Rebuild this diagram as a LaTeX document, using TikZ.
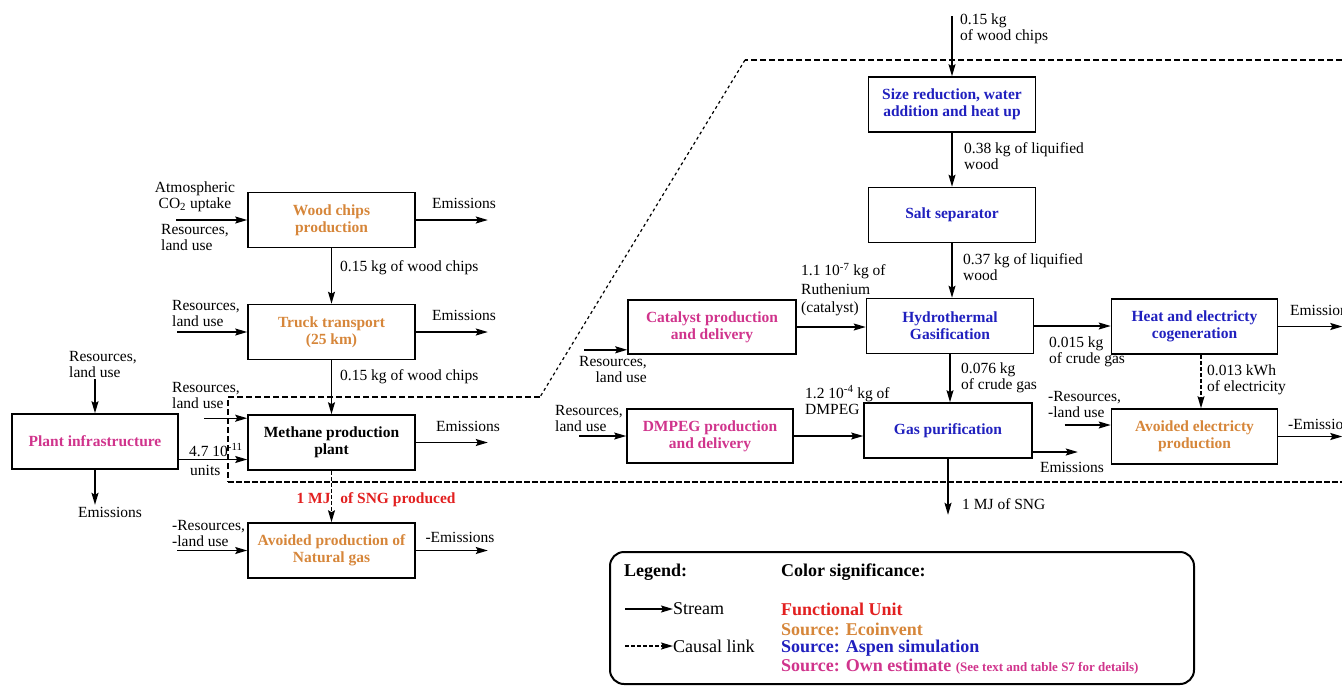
\documentclass[tikz,border=0pt]{standalone}
\usepackage{fontspec}
\setmainfont{Liberation Serif}
\usetikzlibrary{arrows.meta}
\definecolor{ecoorange}{RGB}{214,134,58}
\definecolor{aspenblue}{RGB}{32,32,190}
\definecolor{ownmag}{RGB}{208,52,140}
\definecolor{fured}{RGB}{226,32,32}
\newcommand\lblfont{\fontsize{15.5pt}{16pt}\selectfont}
\newcommand\boxfont{\fontsize{15.5pt}{17pt}\selectfont\bfseries}
\newcommand\legfont{\fontsize{18pt}{19pt}\selectfont}
\begin{document}
\begin{tikzpicture}[x=1pt,y=-1pt,
  proc/.style={draw, line width=1.6pt, minimum width=167pt, minimum height=55pt,
    align=center, font=\boxfont, inner sep=2pt},
  lbl/.style={font=\lblfont, inner sep=0pt, align=left},
  leg/.style={font=\legfont, inner sep=0pt, align=left},
  flow/.style={line width=1.4pt, -{Stealth[length=12pt,width=7pt,inset=2pt]}},
  causal/.style={flow, dash pattern=on 4pt off 2pt},
  boundary/.style={line width=1.2pt, dash pattern=on 6pt off 3pt},
]
\useasboundingbox (0,0) rectangle (1342,686);

% ---------- process boxes ----------
\node[proc, text=ecoorange] (wood) at (331.5,220) {Wood chips\\production};
\node[proc, text=ecoorange] (truck) at (331.5,332) {Truck transport\\(25 km)};
\node[proc] (methane) at (331.5,442.5) {Methane production\\plant};
\node[proc, text=ecoorange] (avng) at (331.5,550.5) {Avoided production of\\Natural gas};
\node[proc, text=ownmag, minimum width=166pt] (plant) at (95,441.5) {Plant infrastructure};
\node[proc, text=aspenblue] (size) at (952,104.5) {Size reduction, water\\addition and heat up};
\node[proc, text=aspenblue] (salt) at (952,215) {Salt separator};
\node[proc, text=aspenblue] (hydro) at (950,326) {Hydrothermal\\Gasification};
\node[proc, text=aspenblue, minimum width=168pt] (gaspur) at (948,430.5) {Gas purification};
\node[proc, text=ownmag, minimum width=168pt, minimum height=54pt] (catal) at (712,327) {Catalyst production\\and delivery};
\node[proc, text=ownmag, minimum width=166pt, minimum height=54pt] (dmpeg) at (710,436) {DMPEG production\\and delivery};
\node[proc, text=aspenblue, minimum width=166pt] (heat) at (1194.5,326.5) {Heat and electricty\\cogeneration};
\node[proc, text=ecoorange, minimum width=166pt] (avel) at (1194.5,436.5) {Avoided electricty\\production};

% ---------- wood chain, left column ----------
\node[lbl, align=center] (atm) at (195,197) {Atmospheric\\CO\textsubscript{2} uptake};
\node[lbl, anchor=west] (resW) at (161,237) {Resources,\\land use};
\draw[flow] ([xshift=-71pt]wood.west) -- (wood.west);
\node[lbl] (emW) at (464,203) {Emissions};
\draw[flow] (wood.east) -- ([xshift=72pt]wood.east);
\draw[flow] (wood.south) -- (truck.north);
\node[lbl, anchor=west] (q1) at (340,268) {0.15 kg of wood chips};

\node[lbl, anchor=west] (resT) at (172,313) {Resources,\\land use};
\draw[flow] ([xshift=-70pt]truck.west) -- (truck.west);
\node[lbl] (emT) at (464,315) {Emissions};
\draw[flow] (truck.east) -- ([xshift=72pt]truck.east);
\draw[flow] (truck.south) -- (methane.north);
\node[lbl, anchor=west] (q2) at (340,377) {0.15 kg of wood chips};

% plant infrastructure
\node[lbl, anchor=west] (resP) at (69,364.5) {Resources,\\land use};
\draw[flow] ([yshift=34pt]plant.north) -- (plant.north);
\draw[flow] (plant.south) -- ([yshift=-35pt]plant.south);
\node[lbl] (emP) at (110,512) {Emissions};

% methane plant inputs and outputs
\node[lbl, anchor=west] (resM) at (172,395) {Resources,\\land use};
\draw[flow] ([xshift=-43pt,yshift=-4pt]methane.north west) -- ([yshift=-4pt]methane.north west);
\draw[flow] ([yshift=-18pt]plant.east) -- ([yshift=-18pt]plant.east -| methane.west);
\node[lbl, anchor=west] (units1) at (189,450) {4.7 10\textsuperscript{-11}};
\node[lbl, anchor=west] (units2) at (190,470) {units};
\node[lbl] (emM) at (468,426) {Emissions};
\draw[flow] (methane.east) -- ([xshift=72pt]methane.east);

% functional unit and avoided natural gas
\node[lbl, font=\lblfont\bfseries, text=fured] (fu) at (376,500) {1 MJ\hspace{6pt} of SNG produced};
\draw[causal] (methane.south) -- (avng.north);
\node[lbl, anchor=west] (resN) at (172,533) {-Resources,\\-land use};
\draw[flow] ([xshift=-70pt]avng.west) -- (avng.west);
\node[lbl] (emN) at (460,537) {-Emissions};
\draw[flow] (avng.east) -- ([xshift=72pt]avng.east);

% ---------- hydrothermal gasification chain ----------
\draw[flow] ([yshift=60pt]size.north) -- (size.north);
\node[lbl, anchor=west] (qin) at (960,29) {0.15 kg\\of wood chips};
\draw[flow] (size.south) -- (size.south |- salt.north);
\node[lbl, anchor=west] (q38) at (964,156) {0.38 kg of liquified\\wood};
\draw[flow] (salt.south) -- (salt.south |- hydro.north);
\node[lbl, anchor=west] (q37) at (963,267) {0.37 kg of liquified\\wood};

% catalyst
\draw[flow] (catal.east) -- (catal.east -| hydro.west);
\node[lbl, anchor=west] (qru) at (801,290) {1.1 10\textsuperscript{-7} kg of\\[3pt]Ruthenium\\[2pt](catalyst)};
\draw[flow] ([xshift=-43pt,yshift=5pt]catal.south west) -- ([yshift=5pt]catal.south west);
\node[lbl, anchor=east, align=right] (resC) at (647,369) {Resources,\\land use};

% cogeneration
\draw[flow] (hydro.east) -- (hydro.east -| heat.west);
\node[lbl, anchor=west] (q015) at (1049,352) {0.015 kg\\of crude gas};
\draw[flow] (heat.east) -- ([xshift=64pt]heat.east);
\node[lbl, anchor=west] (emH) at (1290,310) {Emissions};
\draw[causal] ([xshift=6.5pt]heat.south) -- ([xshift=6.5pt]avel.north);
\node[lbl, anchor=west] (q013) at (1207,380) {0.013 kWh\\of electricity};
\node[lbl, anchor=west] (resA) at (1048,404) {-Resources,\\-land use};
\draw[flow] ([xshift=-46pt,yshift=11.5pt]avel.west) -- ([yshift=11.5pt]avel.west);
\draw[flow] (avel.east) -- ([xshift=64pt]avel.east);
\node[lbl, anchor=west] (emA) at (1288,424) {-Emissions};

% gas purification
\draw[flow] (hydro.south) -- (hydro.south |- gaspur.north);
\node[lbl, anchor=west] (q076) at (961,378) {0.076 kg\\of crude gas};
\draw[flow] (dmpeg.east) -- (dmpeg.east -| gaspur.west);
\node[lbl, anchor=west] (qdm) at (805,400) {1.2 10\textsuperscript{-4} kg of\\DMPEG};
\draw[flow] ([xshift=-47pt]dmpeg.west) -- (dmpeg.west);
\node[lbl, anchor=west] (resD) at (555,418) {Resources,\\land use};
\draw[flow] ([yshift=-21.5pt]gaspur.east) -- ([yshift=-21.5pt,xshift=45pt]gaspur.east);
\node[lbl] (emG) at (1072,467) {Emissions};
\draw[flow] (gaspur.south) -- ([yshift=-56pt]gaspur.south);
\node[lbl, anchor=west] (sng) at (962,504) {1 MJ of SNG};

% ---------- system boundary ----------
\coordinate (bTL) at (228,397);
\coordinate (bKnee) at (540,397);
\coordinate (bTop) at (745,60);
\coordinate (bTR) at (1342,60);
\coordinate (bBL) at (228,482);
\coordinate (bBR) at (1342,482);
\draw[boundary] (bTR) -- (bTop);
\draw[boundary, dash pattern=on 3pt off 3pt] (bTop) -- (bKnee);
\draw[boundary] (bKnee) -- (bTL) -- (bBL);
\draw[boundary, line width=2.2pt, dash pattern=on 6pt off 2pt] (bBL) -- (bBR);

% ---------- legend ----------
\draw[line width=2pt, rounded corners=14pt] (610,552) rectangle (1194,684);
\node[leg, anchor=west, font=\legfont\bfseries] (lgT) at (624,572) {Legend:};
\node[leg, anchor=west, font=\legfont\bfseries] (csT) at (781,572) {Color significance:};
\node[leg, anchor=west] (stream) at (673,609) {Stream};
\draw[flow] ([xshift=-48pt]stream.west) -- (stream.west);
\node[leg, anchor=west] (causallink) at (673,646) {Causal link};
\draw[causal] ([xshift=-48pt]causallink.west) -- (causallink.west);
\node[leg, anchor=west, font=\legfont\bfseries, text=fured] (lfu) at (781,609) {Functional Unit};
\node[leg, anchor=west, font=\legfont\bfseries, text=ecoorange] (leco) at (781,629) {Source: Ecoinvent};
\node[leg, anchor=west, font=\legfont\bfseries, text=aspenblue] (lasp) at (781,648) {Source: Aspen simulation};
\node[leg, anchor=west, font=\legfont\bfseries, text=ownmag] (lown) at (781,667) {Source: Own estimate {\fontsize{13pt}{14pt}\selectfont (See text and table S7 for details)}};
\end{tikzpicture}
\end{document}
